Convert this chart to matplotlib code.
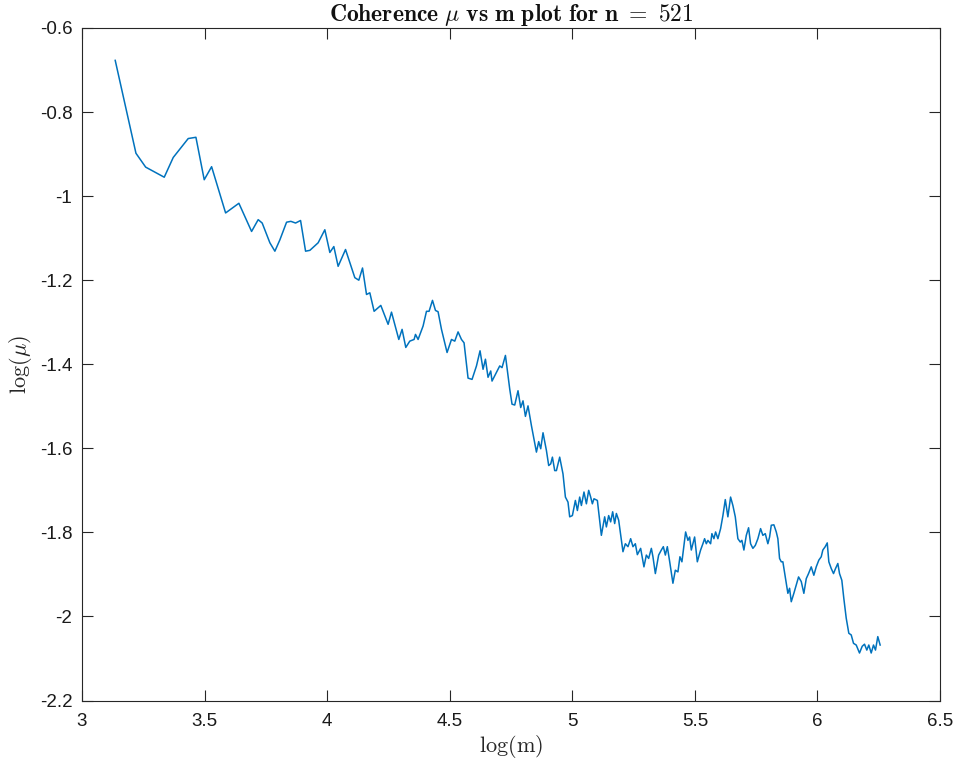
import numpy as np
import matplotlib
matplotlib.use("Agg")
import matplotlib.pyplot as plt
from matplotlib.ticker import FuncFormatter

plt.rcParams["mathtext.fontset"] = "cm"
plt.rcParams["axes.unicode_minus"] = False
plt.rcParams["font.family"] = ["Liberation Sans", "DejaVu Sans"]

# log(m) and log(coherence) along the curve for n = 521
log_m = [
    3.1355, 3.2201, 3.2597, 3.3355, 3.3722, 3.4333, 3.4647, 3.4986, 3.5287, 3.5858,
    3.6400, 3.6918, 3.7187, 3.7350, 3.7664, 3.7868, 3.8072, 3.8345, 3.8520, 3.8712,
    3.8916, 3.9120, 3.9295, 3.9633, 3.9906, 4.0110, 4.0273, 4.0448, 4.0750, 4.1129,
    4.1292, 4.1443, 4.1606, 4.1741, 4.1916, 4.2189, 4.2487, 4.2625, 4.2923, 4.3057,
    4.3208, 4.3371, 4.3547, 4.3604, 4.3710, 4.3914, 4.4052, 4.4158, 4.4297, 4.4419,
    4.4525, 4.4664, 4.4892, 4.5072, 4.5206, 4.5341, 4.5479, 4.5585, 4.5748, 4.5911,
    4.6091, 4.6237, 4.6360, 4.6457, 4.6563, 4.6673, 4.6726, 4.6865, 4.7040, 4.7134,
    4.7273, 4.7448, 4.7542, 4.7652, 4.7786, 4.7896, 4.7990, 4.8088, 4.8194, 4.8333,
    4.8398, 4.8537, 4.8630, 4.8712, 4.8806, 4.8944, 4.9038, 4.9120, 4.9189, 4.9283,
    4.9352, 4.9486, 4.9621, 4.9719, 4.9825, 4.9894, 5.0004, 5.0126, 5.0208, 5.0302,
    5.0371, 5.0477, 5.0575, 5.0669, 5.0750, 5.0819, 5.0885, 5.1023, 5.1186, 5.1321,
    5.1390, 5.1484, 5.1565, 5.1647, 5.1729, 5.1798, 5.1892, 5.2067, 5.2165, 5.2271,
    5.2381, 5.2475, 5.2572, 5.2654, 5.2788, 5.2923, 5.3021, 5.3115, 5.3225, 5.3290,
    5.3388, 5.3522, 5.3632, 5.3714, 5.3796, 5.3877, 5.3971, 5.4105, 5.4203, 5.4309,
    5.4391, 5.4472, 5.4554, 5.4623, 5.4717, 5.4786, 5.4855, 5.4990, 5.5100, 5.5234,
    5.5328, 5.5397, 5.5467, 5.5532, 5.5642, 5.5695, 5.5777, 5.5846, 5.5940, 5.6050,
    5.6144, 5.6241, 5.6347, 5.6457, 5.6551, 5.6649, 5.6755, 5.6853, 5.6918, 5.7000,
    5.7098, 5.7191, 5.7273, 5.7367, 5.7465, 5.7571, 5.7681, 5.7774, 5.7872, 5.7978,
    5.8048, 5.8117, 5.8223, 5.8321, 5.8386, 5.8455, 5.8525, 5.8590, 5.8700, 5.8794,
    5.8863, 5.8932, 5.9038, 5.9136, 5.9230, 5.9340, 5.9446, 5.9544, 5.9637, 5.9747,
    5.9853, 5.9951, 6.0057, 6.0155, 6.0220, 6.0318, 6.0400, 6.0465, 6.0563, 6.0656,
    6.0738, 6.0832, 6.0901, 6.0995, 6.1076, 6.1174, 6.1280, 6.1378, 6.1472, 6.1582,
    6.1716, 6.1826, 6.1920, 6.2014, 6.2095, 6.2193, 6.2287, 6.2368, 6.2462, 6.2558,
]
log_mu = [
    -0.677, -0.898, -0.931, -0.955, -0.908, -0.863, -0.860, -0.961, -0.930, -1.040,
    -1.017, -1.084, -1.056, -1.064, -1.111, -1.131, -1.104, -1.062, -1.060, -1.064,
    -1.058, -1.131, -1.129, -1.111, -1.080, -1.134, -1.120, -1.167, -1.127, -1.194,
    -1.200, -1.171, -1.234, -1.230, -1.274, -1.260, -1.305, -1.276, -1.341, -1.317,
    -1.360, -1.345, -1.341, -1.329, -1.341, -1.309, -1.274, -1.274, -1.248, -1.272,
    -1.275, -1.317, -1.372, -1.341, -1.345, -1.323, -1.341, -1.349, -1.433, -1.436,
    -1.404, -1.368, -1.412, -1.388, -1.431, -1.416, -1.440, -1.424, -1.404, -1.408,
    -1.379, -1.459, -1.495, -1.497, -1.463, -1.503, -1.487, -1.524, -1.499, -1.546,
    -1.566, -1.609, -1.584, -1.601, -1.563, -1.605, -1.641, -1.637, -1.621, -1.653,
    -1.653, -1.621, -1.661, -1.716, -1.728, -1.763, -1.760, -1.724, -1.748, -1.716,
    -1.736, -1.704, -1.732, -1.700, -1.716, -1.732, -1.720, -1.724, -1.807, -1.763,
    -1.787, -1.760, -1.775, -1.751, -1.779, -1.755, -1.771, -1.846, -1.827, -1.834,
    -1.815, -1.834, -1.827, -1.853, -1.838, -1.882, -1.854, -1.862, -1.838, -1.858,
    -1.898, -1.854, -1.842, -1.834, -1.854, -1.834, -1.869, -1.921, -1.890, -1.894,
    -1.858, -1.870, -1.831, -1.799, -1.819, -1.811, -1.842, -1.811, -1.870, -1.842,
    -1.827, -1.815, -1.827, -1.819, -1.827, -1.803, -1.815, -1.799, -1.815, -1.791,
    -1.760, -1.722, -1.763, -1.716, -1.736, -1.763, -1.815, -1.823, -1.819, -1.842,
    -1.807, -1.789, -1.827, -1.838, -1.831, -1.815, -1.791, -1.807, -1.803, -1.827,
    -1.811, -1.783, -1.782, -1.799, -1.815, -1.862, -1.870, -1.870, -1.910, -1.945,
    -1.933, -1.965, -1.945, -1.925, -1.906, -1.917, -1.945, -1.910, -1.898, -1.882,
    -1.902, -1.882, -1.866, -1.858, -1.842, -1.834, -1.825, -1.870, -1.886, -1.898,
    -1.886, -1.874, -1.898, -1.914, -1.957, -2.004, -2.040, -2.044, -2.064, -2.068,
    -2.087, -2.071, -2.066, -2.080, -2.068, -2.087, -2.068, -2.080, -2.048, -2.068,
]

x_ticks = [3, 3.5, 4, 4.5, 5, 5.5, 6, 6.5]
y_ticks = [-2.2, -2, -1.8, -1.6, -1.4, -1.2, -1, -0.8, -0.6]

fig = plt.figure(figsize=(9.59, 7.65), dpi=100)
ax = fig.add_axes([0.0855, 0.0843, 0.8947, 0.8791])

ax.plot(log_m, log_mu, color="#0072BD", linewidth=1.1)

ax.set_xlim(3, 6.5)
ax.set_ylim(-2.2, -0.6)
ax.set_xticks(x_ticks)
ax.set_yticks(y_ticks)
fmt = FuncFormatter(lambda v, p: ("%g" % round(v, 2)))
ax.xaxis.set_major_formatter(fmt)
ax.yaxis.set_major_formatter(fmt)

axis_color = "#262626"
for s in ax.spines.values():
    s.set_color(axis_color)
    s.set_linewidth(0.8)
ax.tick_params(direction="in", length=8, width=0.8, colors=axis_color,
               labelsize=13.5, top=True, right=True, pad=7)
ax.tick_params(axis="x", pad=9)
for lbl in ax.get_xticklabels() + ax.get_yticklabels():
    lbl.set_color("#1a1a1a")

ax.set_title(r"$\mathbf{Coherence}\ \mu\ \mathbf{vs\ m\ plot\ for\ n}\ =\ 521$",
             fontsize=17, pad=5, color="#111111")
ax.set_xlabel(r"$\log(\mathrm{m})$", fontsize=16, labelpad=2, color="#262626")
ax.set_ylabel(r"$\log(\mu)$", fontsize=16, labelpad=4, color="#262626")

fig.savefig("out.png", dpi=100, facecolor="white")
